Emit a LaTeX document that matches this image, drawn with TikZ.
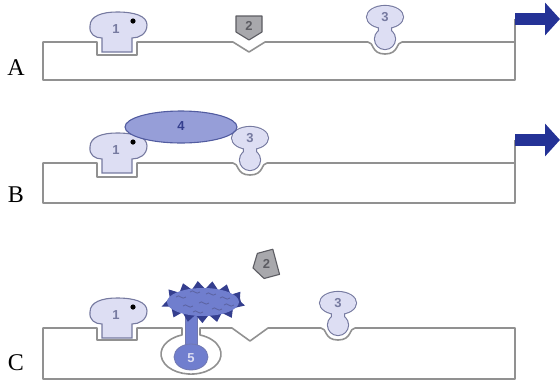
\documentclass[tikz,border=0pt]{standalone}
\usepackage{fontspec}
\setmainfont{Liberation Serif}
\setsansfont{Liberation Sans}
\usetikzlibrary{arrows.meta, decorations.pathmorphing}
\definecolor{memgray}{RGB}{145,145,145}
\definecolor{protlav}{RGB}{221,222,243}
\definecolor{protedge}{RGB}{118,122,160}
\definecolor{shieldgray}{RGB}{168,168,172}
\definecolor{shieldedge}{RGB}{92,92,98}
\definecolor{ligblue}{RGB}{150,158,216}
\definecolor{ligedge}{RGB}{82,92,160}
\definecolor{recblue}{RGB}{112,126,206}
\definecolor{recdark}{RGB}{52,62,142}
\definecolor{signavy}{RGB}{36,50,150}

\begin{document}
\begin{tikzpicture}[x=1pt, y=-1pt,
  membrane/.style={draw=memgray, line width=1.6pt, line join=round},
  protein/.style={draw=protedge, fill=protlav, line width=1.1pt},
  numlabel/.style={font=\sffamily\bfseries\fontsize{13}{13}\selectfont, text=protedge, inner sep=0pt},
  rowlabel/.style={font=\fontsize{24}{24}\selectfont, anchor=base, inner sep=0pt},
  sigarrow/.style={draw=signavy, line width=12pt, -{Triangle[length=15pt, width=32pt]}},
  pics/stalk/.style={code={
    \draw[protein] (-15,10) -- (-15,-4) .. controls (-22,-4) and (-28,-8) .. (-27,-16)
      .. controls (-27,-26) and (-15,-30) .. (0,-30) .. controls (18,-30) and (30,-26) .. (30,-17)
      .. controls (30,-8) and (22,-4) .. (15,-4) -- (15,10) -- cycle;
    \fill (16,-21) circle [radius=2.6pt];
    \node[numlabel] (-num) at (-1,-13) {1};
  }},
  pics/bulb/.style={code={
    \path[draw=protedge, line width=2.2pt] (0,-25) ellipse [x radius=18, y radius=11]
      (0,-3) circle [radius=10] (-6,-18) rectangle (6,-8);
    \fill[protlav] (0,-25) ellipse [x radius=18, y radius=11];
    \fill[protlav] (0,-3) circle [radius=10];
    \fill[protlav] (-6,-18) rectangle (6,-8);
    \node[numlabel] (-num) at (0,-25) {3};
  }},
  pics/shield/.style={code={
    \draw[fill=shieldgray, draw=shieldedge, line width=1.1pt, line join=round]
      (-13,-24) -- (13,-24) -- (13,-8) -- (0,0) -- (-13,-8) -- cycle;
    \node[numlabel, text=shieldedge] (-num) at (0,-14) {2};
  }}
]
\useasboundingbox (0,0) rectangle (560,384);

% row A
\draw[membrane] (515,80) -- (43,80) -- (43,42) -- (97,42) -- (97,55) -- (137,55) -- (137,42)
  -- (233,42) -- (249,52) -- (265,42) -- (368,42)
  .. controls (374,42) and (371,54) .. (385,54) .. controls (399,54) and (396,42) .. (402,42)
  -- (515,42) -- cycle;
\pic (pa1) at (117,42) {stalk};
\pic (pa2) at (249,40) {shield};
\pic (pa3) at (385,42) {bulb};
\coordinate (cornerA) at (515,42);
\coordinate (outA) at (515,19);
\coordinate (tipA) at (560,19);
\draw[membrane] (cornerA) -- (outA);
\draw[sigarrow] (outA) -- (tipA);
\node[rowlabel] (rowA) at (16,75) {A};

% row B
\draw[membrane] (515,203) -- (43,203) -- (43,163) -- (97,163) -- (97,177) -- (137,177) -- (137,163)
  -- (233,163) .. controls (239,163) and (236,175) .. (250,175) .. controls (264,175) and (261,163) .. (267,163)
  -- (515,163) -- cycle;
\pic (pb1) at (117,163) {stalk};
\pic (pb3) at (250,163) {bulb};
\draw[fill=ligblue, draw=ligedge, line width=1.1pt] (181,127) ellipse [x radius=56, y radius=16];
\node[numlabel, text=recdark] (lig) at (181,126) {4};
\coordinate (cornerB) at (515,163);
\coordinate (outB) at (515,140);
\coordinate (tipB) at (560,140);
\draw[membrane] (cornerB) -- (outB);
\draw[sigarrow] (outB) -- (tipB);
\node[rowlabel] (rowB) at (16,202) {B};

% row C
\draw[membrane] (515,379) -- (43,379) -- (43,328) -- (97,328) -- (97,340) -- (137,340) -- (137,328)
  -- (182,328) -- (182,335) arc[start angle=252.5, end angle=-72.5, x radius=30, y radius=20] -- (200,328)
  -- (232,328) -- (250,341) -- (268,328) -- (321,328)
  .. controls (327,328) and (324,340) .. (338,340) .. controls (352,340) and (349,328) .. (355,328)
  -- (515,328) -- cycle;
\pic (pc1) at (117,328) {stalk};
\pic (pc3) at (338,328) {bulb};
\pic[rotate=-75] (pc2) at (253,268) {shield};
% receptor with bound ligand
\fill[recblue] (185,312) rectangle (197,347);
\draw[recdark!70, line width=0.8pt] (185,314) -- (185,346) (197,314) -- (197,346);
\draw[fill=recblue, draw=recdark!70, line width=0.8pt] (191,357) ellipse [x radius=17, y radius=13];
\node[numlabel, text=protlav] (five) at (191,358) {5};
\fill[recdark, decorate, decoration={zigzag, amplitude=4pt, segment length=14pt}]
  (203,302) ellipse [x radius=38, y radius=17];
\fill[recblue] (203,302) ellipse [x radius=36, y radius=14];
\foreach \x/\y in {176/297, 190/292, 206/294, 220/298, 183/306, 199/303, 212/309, 224/305, 193/312}
  \draw[recdark!80, line width=0.9pt] (\x,\y) .. controls (\x+3,\y-4) and (\x+6,\y+4) .. (\x+10,\y);
\node[rowlabel] (rowC) at (16,370) {C};
\end{tikzpicture}
\end{document}
